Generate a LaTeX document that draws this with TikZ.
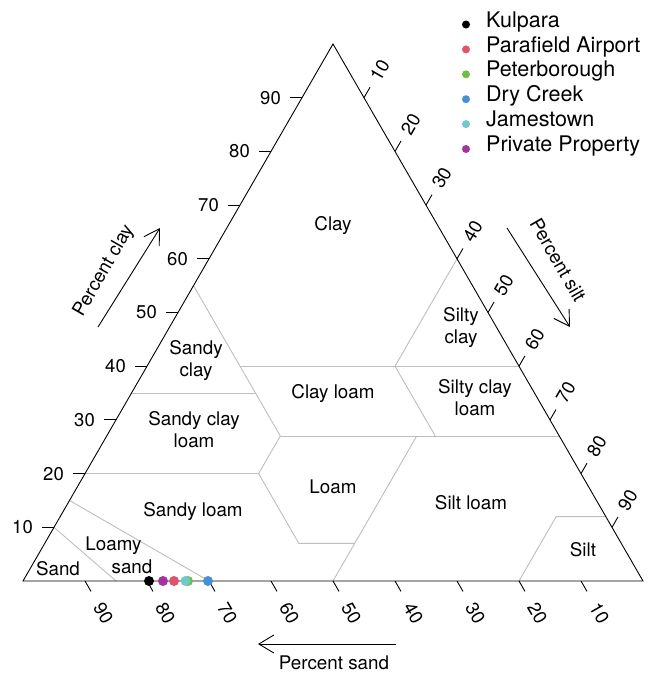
\documentclass[tikz,border=0pt]{standalone}
\usepackage{fontspec}
\setmainfont{TeX Gyre Heros}
\usetikzlibrary{arrows.meta,calc}
\definecolor{cKul}{HTML}{000000}
\definecolor{cPar}{HTML}{DF536B}
\definecolor{cPet}{HTML}{6CBE45}
\definecolor{cDry}{HTML}{4A8FD6}
\definecolor{cJam}{HTML}{6FC8C9}
\definecolor{cPri}{HTML}{A2329C}
\definecolor{regline}{HTML}{BEBEBE}
\newcommand{\tcoord}[3]{\coordinate (#1) at ({23+6.2*((#3)+(#2)/2)},{581-5.37*(#2)});}
\begin{document}
\begin{tikzpicture}[x=1pt,y=-1pt,
  region/.style={font=\fontsize{18.8}{22}\selectfont, align=center, inner sep=0},
  ticklab/.style={font=\fontsize{18.5}{22}\selectfont, inner sep=0},
  axtitle/.style={font=\fontsize{18.8}{22}\selectfont, inner sep=0},
  legtext/.style={font=\fontsize{21.5}{25}\selectfont, inner sep=0, anchor=mid west},
  frame/.style={black, line width=0.9pt},
  bound/.style={regline, line width=0.9pt},
  tickmark/.style={black, line width=0.9pt},
  axarrow/.style={black, line width=0.9pt, -{Straight Barb[length=15pt,width=18pt]}},
]
\useasboundingbox (0,0) rectangle (657,675);
% corners
\tcoord{A}{0}{0}
\tcoord{B}{0}{100}
\tcoord{C}{100}{0}
% boundary points
\tcoord{p1}{55}{0}  \tcoord{p2}{27}{28}
\tcoord{p3}{40}{15} \tcoord{p4}{40}{60}
\tcoord{p5}{60}{40} \tcoord{p6}{40}{40} \tcoord{p7}{27}{53}
\tcoord{p8}{35}{0}  \tcoord{p9}{35}{20}
\tcoord{p10}{27}{73}
\tcoord{p11}{20}{0} \tcoord{p12}{20}{28}
\tcoord{p13}{7}{41} \tcoord{p14}{7}{50}
\tcoord{p15}{27}{50} \tcoord{p16}{0}{50}
\tcoord{p17}{0}{80} \tcoord{p18}{12}{80} \tcoord{p19}{12}{88}
\tcoord{p20}{0}{30} \tcoord{p21}{15}{0}
\tcoord{p22}{0}{15} \tcoord{p23}{10}{0}
% region boundaries
\draw[bound] (p1) -- (p2);
\draw[bound] (p3) -- (p4);
\draw[bound] (p5) -- (p6) -- (p7);
\draw[bound] (p8) -- (p9);
\draw[bound] (p2) -- (p10);
\draw[bound] (p11) -- (p12);
\draw[bound] (p2) -- (p12) -- (p13) -- (p14);
\draw[bound] (p15) -- (p16);
\draw[bound] (p17) -- (p18) -- (p19);
\draw[bound] (p20) -- (p21);
\draw[bound] (p22) -- (p23);
% frame
\draw[frame] (A) -- (B) -- (C) -- cycle;
% ticks
\foreach \i in {1,...,9}{
  \pgfmathtruncatemacro\v{10*\i}
  \pgfmathtruncatemacro\w{100-10*\i}
  \tcoord{lt\i}{\v}{0}
  \draw[tickmark] (lt\i) -- ++(-12,0);
  \node[ticklab,anchor=east] (ll\i) at ($(lt\i)+(-21,0)$) {\v};
  \tcoord{bt\i}{0}{\w}
  \draw[tickmark] (bt\i) -- ++(6,10.4);
  \node[ticklab,rotate=-60] (bl\i) at ($(bt\i)+(18.4,31.9)$) {\v};
  \tcoord{rt\i}{\w}{\v}
  \draw[tickmark] (rt\i) -- ++(6,-10.4);
  \node[ticklab,rotate=60] (rl\i) at ($(rt\i)+(15.7,-27.3)$) {\v};
}
% region labels
\node[region] (rClay) at (333,226) {Clay};
\node[region] (rSC) at (196,361) {Sandy\\clay};
\node[region] (rSiC) at (461,328) {Silty\\clay};
\node[region] (rCL) at (333,394) {Clay loam};
\node[region] (rSiCL) at (475,398) {Silty clay\\loam};
\node[region] (rSCL) at (194,430) {Sandy clay\\loam};
\node[region] (rL) at (333,487) {Loam};
\node[region] (rSiL) at (471,503) {Silt loam};
\node[region] (rSL) at (193,512) {Sandy loam};
\node[region] (rLS1) at (113.5,546) {Loamy};
\node[region] (rLS2) at (132,567) {sand};
\node[region] (rS) at (58,569) {Sand};
\node[region] (rSi) at (583,550) {Silt};
% axis titles and arrows
\coordinate (ca1) at (98,327); \coordinate (ca2) at (160,228);
\draw[axarrow] (ca1) -- (ca2);
\node[axtitle,rotate=60] (tClay) at (104,271) {Percent clay};
\coordinate (sa1) at (507,228); \coordinate (sa2) at (570,327);
\draw[axarrow] (sa1) -- (sa2);
\node[axtitle,rotate=-60] (tSilt) at (558,260) {Percent silt};
\coordinate (da1) at (396,644); \coordinate (da2) at (258,644);
\draw[axarrow] (da1) -- (da2);
\node[axtitle] (tSand) at (334,663) {Percent sand};
% data points
\fill[cKul] (149,581) circle (5);
\fill[cPar] (174,581) circle (5);
\fill[cPet] (188,581) circle (5);
\fill[cDry] (208,581) circle (5);
\fill[cJam] (185.5,581) circle (5);
\fill[cPri] (163,581) circle (5);
% legend
\foreach \c/\t [count=\k] in {cKul/Kulpara, cPar/Parafield Airport, cPet/Peterborough, cDry/Dry Creek, cJam/Jamestown, cPri/Private Property}{
  \pgfmathsetmacro\yy{24.5+24.9*(\k-1)}
  \fill[\c] (466,\yy) circle (4);
  \node[legtext] (leg\k) at (486,\yy) {\t};
}
\end{tikzpicture}
\end{document}
